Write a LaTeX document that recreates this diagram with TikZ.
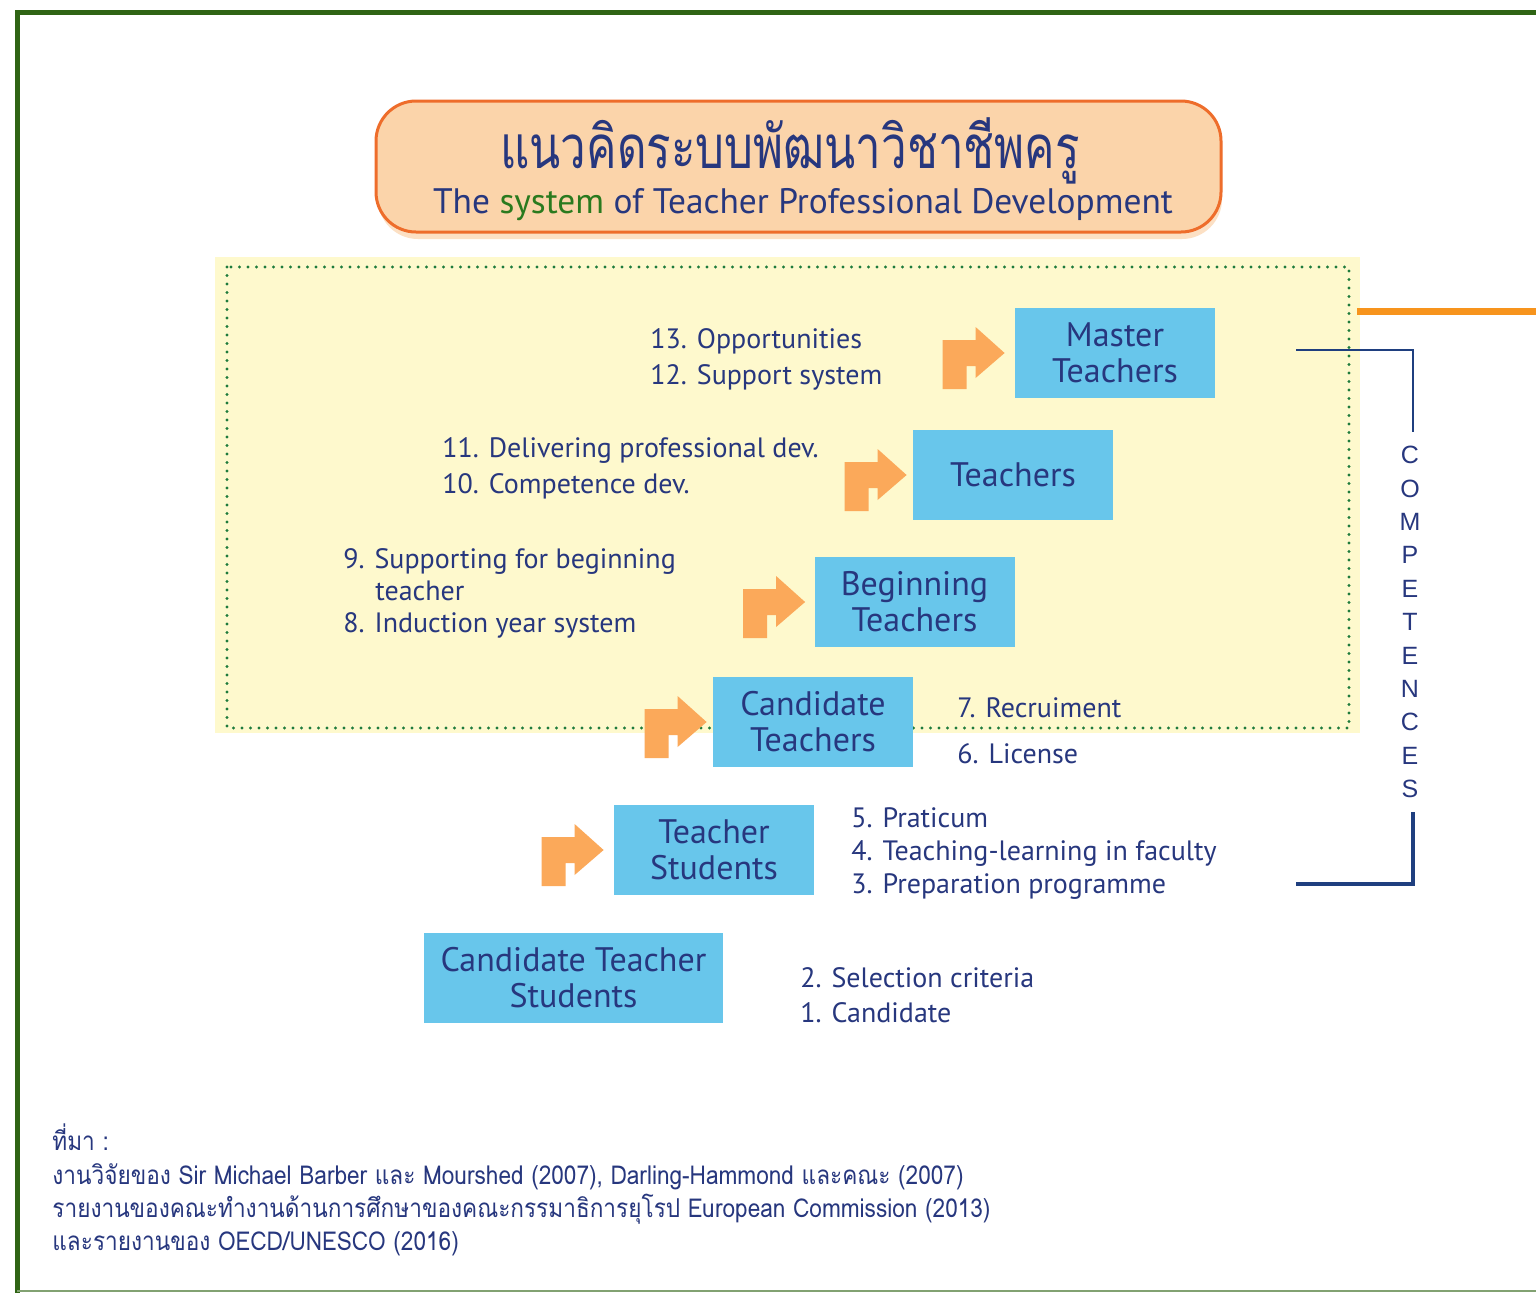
\documentclass[tikz,border=0pt]{standalone}
\usepackage{fontspec}
\setmainfont{PT Sans}
\newfontfamily\thai[Script=Thai,FakeStretch=0.76]{Loma}
\newfontfamily\thaifoot[Script=Thai,FakeStretch=0.87]{Loma}
\newfontfamily\compf{Liberation Sans}
\usetikzlibrary{positioning}
\definecolor{navy}{HTML}{27377E}
\definecolor{boxblue}{HTML}{68C6EB}
\definecolor{paleyellow}{HTML}{FEF9CD}
\definecolor{dotgreen}{HTML}{1E7B3C}
\definecolor{arroworange}{HTML}{FBA95A}
\definecolor{peach}{HTML}{FBD4AA}
\definecolor{peachshadow}{HTML}{FCE0C4}
\definecolor{titleborder}{HTML}{EE6D2B}
\definecolor{framegreen}{HTML}{2F6414}
\definecolor{lineorange}{HTML}{F7941D}
\definecolor{bracketnavy}{HTML}{1F3F7F}
\definecolor{sysgreen}{HTML}{2A7A1E}
\tikzset{
  stagebox/.style={rectangle, fill=boxblue, text=navy, minimum width=100pt, minimum height=45pt,
    inner sep=0pt, align=center, font=\fontsize{17}{18}\selectfont},
  lbl/.style={anchor=base west, inner sep=0pt, text=navy, font=\fontsize{14}{18}\selectfont},
  foot/.style={anchor=base west, inner sep=0pt, text=navy, font=\thaifoot\fontsize{13}{16}\selectfont},
  bent/.pic={\fill[arroworange] (-62,36) -- (-38,36) -- (-38,13) -- (-29,13) -- (-29,25) -- (0,0)
     -- (-29,-26) -- (-29,-13) -- (-62,-13) -- cycle;},
  letter/.style={inner sep=0pt, text=navy, font=\compf\fontsize{12.5}{14}\selectfont}
}
\begin{document}
\begin{tikzpicture}[x=0.5pt,y=-0.5pt]
\useasboundingbox (0,0) rectangle (1536,1292);
\fill[white] (0,0) rectangle (1536,1292);
% frame
\draw[framegreen, line width=2.5pt] (17,1310) -- (17,12) -- (1560,12);
\draw[framegreen!60, line width=1pt] (17,1291) -- (1560,1291);
% title
\fill[peachshadow, rounded corners=20pt] (378,110) rectangle (1222,239);
\draw[titleborder, fill=peach, line width=1.5pt, rounded corners=20pt] (376,101) rectangle (1221,232);
\node[inner sep=0pt, text=navy, font=\thai\fontsize{30}{32}\selectfont, anchor=base] (tth) at (790,168) {แนวคิดระบบพัฒนาวิชาชีพครู};
\node[inner sep=0pt, text=navy, font=\fontsize{17.7}{20}\selectfont, anchor=base] (tte) at (803,213) {The \textcolor{sysgreen}{system} of Teacher Professional Development};
% yellow area
\fill[paleyellow] (215,257) rectangle (1360,733);
\draw[dotgreen, line width=1.6pt, line cap=round, dash pattern=on 0pt off 4.25pt] (227,267) rectangle (1349,728);
% orange line
\draw[lineorange, line width=3.5pt] (1357,311) -- (1536,311);
% boxes
\node[stagebox] (mt) at (1115,353) {Master\\Teachers};
\node[stagebox] (te) at (1013,475) {Teachers};
\node[stagebox] (bt) at (914.5,602) {Beginning\\Teachers};
\node[stagebox] (ct) at (813,722) {Candidate\\Teachers};
\node[stagebox] (ts) at (714,850) {Teacher\\Students};
\node[stagebox, minimum width=149.5pt] (cts) at (573.5,978) {Candidate Teacher\\Students};
% arrows
\pic at ([xshift=-5pt]mt.west) {bent};
\pic at ([xshift=-3pt]te.west) {bent};
\pic at ([xshift=-4.5pt]bt.west) {bent};
\pic at ([xshift=-3pt]ct.west) {bent};
\pic at ([xshift=-5pt]ts.west) {bent};
% labels
\node[lbl] (l13) at (650,348) {13. Opportunities};
\node[lbl] (l12) at (650,384) {12. Support system};
\node[lbl] (l11) at (442,457) {11. Delivering professional dev.};
\node[lbl] (l10) at (442,493) {10. Competence dev.};
\node[lbl] (l9) at (343,568) {9. Supporting for beginning};
\node[lbl] (l9b) at (375,600) {teacher};
\node[lbl] (l8) at (343,632) {8. Induction year system};
\node[lbl] (l7) at (957,717) {7. Recruiment};
\node[lbl] (l6) at (957,763) {6. License};
\node[lbl] (l5) at (851,827) {5. Praticum};
\node[lbl] (l4) at (851,860) {4. Teaching-learning in faculty};
\node[lbl] (l3) at (851,893) {3. Preparation programme};
\node[lbl] (l2) at (800,987) {2. Selection criteria};
\node[lbl] (l1) at (800,1022) {1. Candidate};
% competences bracket
\coordinate (bt1) at (1296,350);
\coordinate (bt2) at (1413,350);
\coordinate (bt3) at (1413,432);
\coordinate (bb1) at (1296,884);
\coordinate (bb2) at (1413,884);
\coordinate (bb3) at (1413,812);
\draw[bracketnavy, line width=1.2pt] (bt1) -- (bt2) -- (bt3);
\draw[bracketnavy, line width=2pt] (bb1) -- (bb2) -- (bb3);
\foreach \ch [count=\i from 0] in {C,O,M,P,E,T,E,N,C,E,S} {
  \node[letter] (c\i) at (1410,{455+33.4*\i}) {\ch};
}
% footer
\node[foot] (f0) at (52,1150) {ที่มา :};
\node[foot] (f1) at (52,1184) {งานวิจัยของ Sir Michael Barber และ Mourshed (2007), Darling-Hammond และคณะ (2007)};
\node[foot] (f2) at (52,1217) {รายงานของคณะทำงานด้านการศึกษาของคณะกรรมาธิการยุโรป European Commission (2013)};
\node[foot] (f3) at (52,1250) {และรายงานของ OECD/UNESCO (2016)};
\end{tikzpicture}
\end{document}
